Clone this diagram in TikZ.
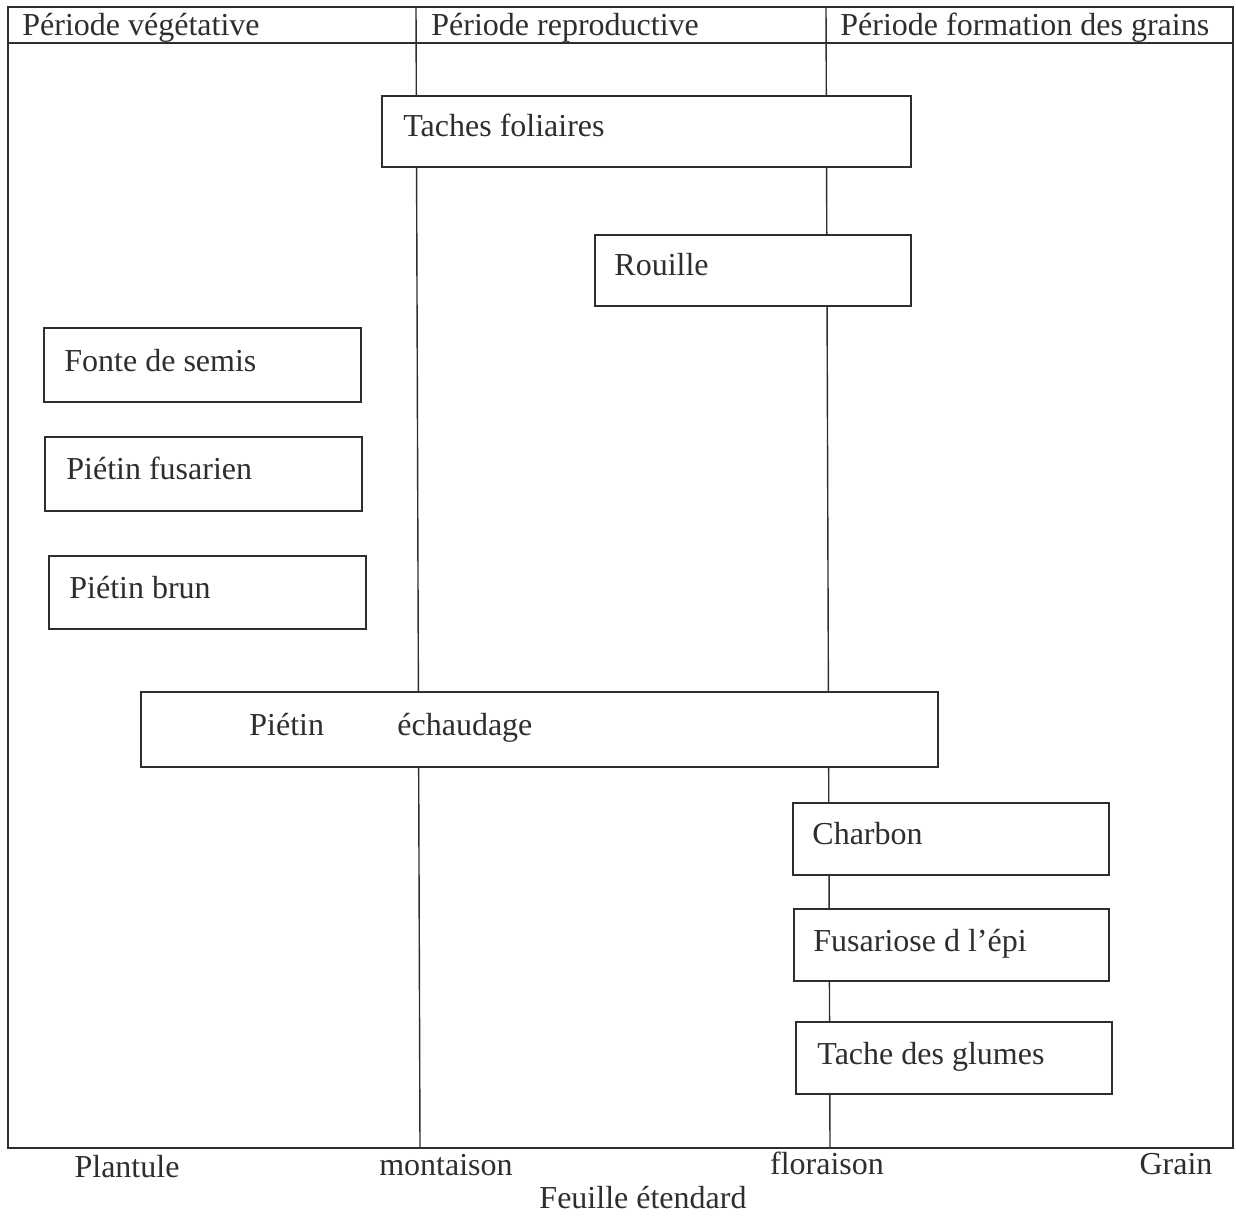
\documentclass[tikz,border=0pt]{standalone}
\usepackage{fontspec}
\setmainfont{Liberation Serif}
\definecolor{ink}{rgb}{0.18,0.18,0.18}
\begin{document}
\begin{tikzpicture}[x=0.5pt,y=-0.5pt,
  every node/.style={font=\fontsize{16}{19}\selectfont, text=ink},
  frame/.style={draw=ink, line width=1pt},
  vline/.style={draw=ink, line width=0.7pt},
  box/.style={draw=ink, fill=white, line width=1pt, rectangle, inner sep=0pt, anchor=north west},
  lbl/.style={anchor=base west, inner sep=0pt},
  axlbl/.style={anchor=base, inner sep=0pt}]
\useasboundingbox (0,0) rectangle (1236,1216);
% frame
\coordinate (tl) at (8,7);
\coordinate (br) at (1233,1148);
\coordinate (hl) at (8,43);
\coordinate (hr) at (1233,43);
\draw[frame] (tl) rectangle (br);
\draw[frame] (hl) -- (hr);
% vertical dividers
\coordinate (m1) at (416,7);
\coordinate (m2) at (420,1148);
\coordinate (f1) at (826,7);
\coordinate (f2) at (830,1148);
\draw[vline] (m1) -- (m2);
\draw[vline] (f1) -- (f2);
% headers
\node[lbl] (h1) at (22,35) {Période végétative};
\node[lbl] (h2) at (431,35) {Période reproductive};
\node[lbl] (h3) at (840,35) {Période formation des grains};
% boxes
\node[box, minimum width=529*0.5pt, minimum height=71*0.5pt] (tf) at (381,95) {};
\node[lbl] at (403,136) {Taches foliaires};
\node[box, minimum width=316*0.5pt, minimum height=71*0.5pt] (ro) at (594,234) {};
\node[lbl] at (614,275) {Rouille};
\node[box, minimum width=317*0.5pt, minimum height=74*0.5pt] (fs) at (43,327) {};
\node[lbl] at (64,371) {Fonte de semis};
\node[box, minimum width=317*0.5pt, minimum height=74*0.5pt] (pf) at (44,436) {};
\node[lbl] at (66,479) {Piétin fusarien};
\node[box, minimum width=317*0.5pt, minimum height=73*0.5pt] (pb) at (48,555) {};
\node[lbl] at (69,598) {Piétin brun};
\node[box, minimum width=797*0.5pt, minimum height=75*0.5pt] (pe) at (140,691) {};
\node[lbl] at (249,735) {Piétin};
\node[lbl] at (397,735) {échaudage};
\node[box, minimum width=316*0.5pt, minimum height=72*0.5pt] (ch) at (792,802) {};
\node[lbl] at (812,844) {Charbon};
\node[box, minimum width=315*0.5pt, minimum height=72*0.5pt] (fe) at (793,908) {};
\node[lbl] at (813,951) {Fusariose d l’épi};
\node[box, minimum width=316*0.5pt, minimum height=72*0.5pt] (tg) at (795,1021) {};
\node[lbl] at (817,1064) {Tache des glumes};
% axis labels
\node[axlbl] (a1) at (127,1177) {Plantule};
\node[axlbl] (a2) at (446,1175) {montaison};
\node[axlbl] (a3) at (827,1174) {floraison};
\node[axlbl] (a4) at (1176,1174) {Grain};
\node[axlbl] (a5) at (643,1208) {Feuille étendard};
\end{tikzpicture}
\end{document}
